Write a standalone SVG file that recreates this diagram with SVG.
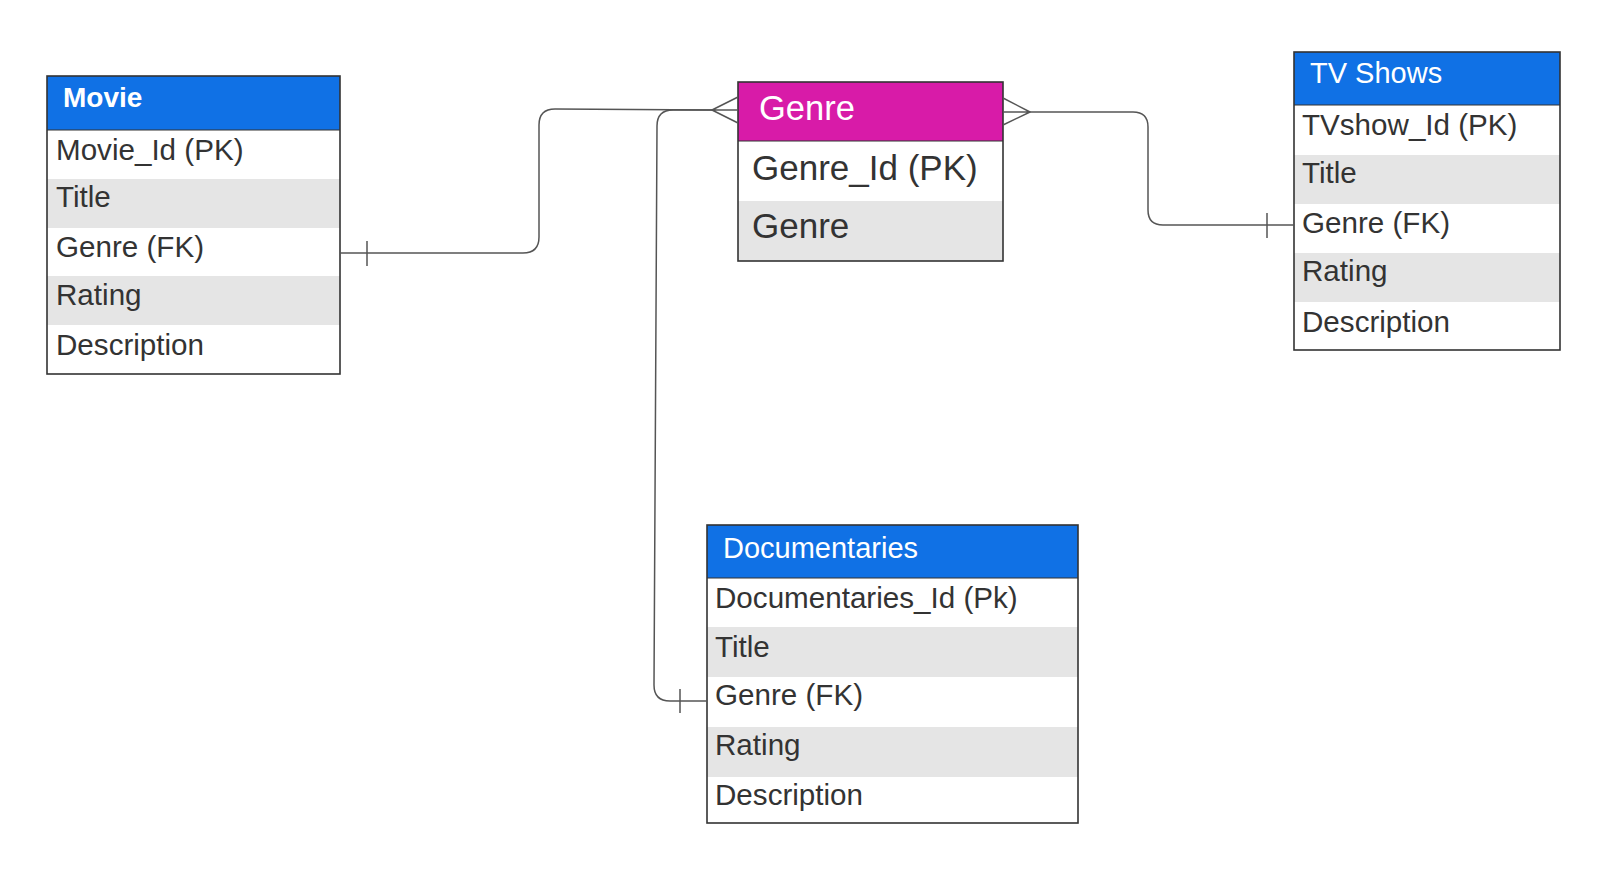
<svg xmlns="http://www.w3.org/2000/svg" width="1600" height="871" viewBox="0 0 1600 871">
<style>
.hdr{fill:#1071E5;}
.mag{fill:#D81BA8;}
.row{fill:#FFFFFF;}
.alt{fill:#E5E5E5;}
.frame{fill:none;stroke:#333333;stroke-width:1.6;}
.sep{stroke:#333333;stroke-width:1.2;}
.ht{font-family:"Liberation Sans",Arial,sans-serif;fill:#FFFFFF;}
.rt{font-family:"Liberation Sans",Arial,sans-serif;fill:#333333;}
.conn{fill:none;stroke:#555555;stroke-width:1.5;stroke-linejoin:round;}
</style>
<rect width="1600" height="871" fill="#FFFFFF"/>

<g id="movie">
<rect class="hdr" x="47" y="76" width="293" height="54"/>
<rect class="row" x="47" y="130" width="293" height="49"/>
<rect class="alt" x="47" y="179" width="293" height="49"/>
<rect class="row" x="47" y="228" width="293" height="48"/>
<rect class="alt" x="47" y="276" width="293" height="49"/>
<rect class="row" x="47" y="325" width="293" height="49"/>
<line class="sep" x1="47" y1="130" x2="340" y2="130"/>
<rect class="frame" x="47" y="76" width="293" height="298"/>
<text class="ht" x="63" y="107" font-size="28" font-weight="bold">Movie</text>
<text class="rt" x="56" y="160" font-size="29.6">Movie_Id (PK)</text>
<text class="rt" x="56" y="207" font-size="29.6">Title</text>
<text class="rt" x="56" y="257" font-size="29.6">Genre (FK)</text>
<text class="rt" x="56" y="305" font-size="29.6">Rating</text>
<text class="rt" x="56" y="355" font-size="29.6">Description</text>
</g>

<g id="genre">
<rect class="mag" x="738" y="82" width="265" height="59"/>
<rect class="row" x="738" y="141" width="265" height="60"/>
<rect class="alt" x="738" y="201" width="265" height="60"/>
<line class="sep" x1="738" y1="141" x2="1003" y2="141"/>
<rect class="frame" x="738" y="82" width="265" height="179"/>
<text class="ht" x="759" y="120" font-size="34.5">Genre</text>
<text class="rt" x="752" y="180" font-size="35">Genre_Id (PK)</text>
<text class="rt" x="752" y="238" font-size="35">Genre</text>
</g>

<g id="tvshows">
<rect class="hdr" x="1294" y="52" width="266" height="53"/>
<rect class="row" x="1294" y="105" width="266" height="50"/>
<rect class="alt" x="1294" y="155" width="266" height="49"/>
<rect class="row" x="1294" y="204" width="266" height="49"/>
<rect class="alt" x="1294" y="253" width="266" height="49"/>
<rect class="row" x="1294" y="302" width="266" height="48"/>
<line class="sep" x1="1294" y1="105" x2="1560" y2="105"/>
<rect class="frame" x="1294" y="52" width="266" height="298"/>
<text class="ht" x="1310" y="83" font-size="29">TV Shows</text>
<text class="rt" x="1302" y="135" font-size="29.6">TVshow_Id (PK)</text>
<text class="rt" x="1302" y="183" font-size="29.6">Title</text>
<text class="rt" x="1302" y="233" font-size="29.6">Genre (FK)</text>
<text class="rt" x="1302" y="281" font-size="29.6">Rating</text>
<text class="rt" x="1302" y="332" font-size="29.6">Description</text>
</g>

<g id="documentaries">
<rect class="hdr" x="707" y="525" width="371" height="53"/>
<rect class="row" x="707" y="578" width="371" height="49"/>
<rect class="alt" x="707" y="627" width="371" height="50"/>
<rect class="row" x="707" y="677" width="371" height="50"/>
<rect class="alt" x="707" y="727" width="371" height="50"/>
<rect class="row" x="707" y="777" width="371" height="46"/>
<line class="sep" x1="707" y1="578" x2="1078" y2="578"/>
<rect class="frame" x="707" y="525" width="371" height="298"/>
<text class="ht" x="723" y="558" font-size="29">Documentaries</text>
<text class="rt" x="715" y="608" font-size="29.6">Documentaries_Id (Pk)</text>
<text class="rt" x="715" y="657" font-size="29.6">Title</text>
<text class="rt" x="715" y="705" font-size="29.6">Genre (FK)</text>
<text class="rt" x="715" y="755" font-size="29.6">Rating</text>
<text class="rt" x="715" y="805" font-size="29.6">Description</text>
</g>

<g id="connectors">
<path class="conn" d="M340,253 L523,253 Q539,253 539,237 L539,125 Q539,109 555,109 L712,110"/>
<line class="conn" x1="367" y1="241" x2="367" y2="266"/>
<path class="conn" d="M738,97 L712,110 L738,123 M712,110 L738,110"/>
<path class="conn" d="M712,110 L673,110 Q657,110 657,126 L654,685 Q654,701 670,701 L707,701"/>
<line class="conn" x1="680" y1="689" x2="680" y2="713"/>
<path class="conn" d="M1003,98 L1030,112 L1003,125 M1003,112 L1030,112"/>
<path class="conn" d="M1030,112 L1133,112 Q1148,112 1148,127 L1148,210 Q1148,225 1163,225 L1294,225"/>
<line class="conn" x1="1267" y1="213" x2="1267" y2="238"/>
</g>
</svg>
